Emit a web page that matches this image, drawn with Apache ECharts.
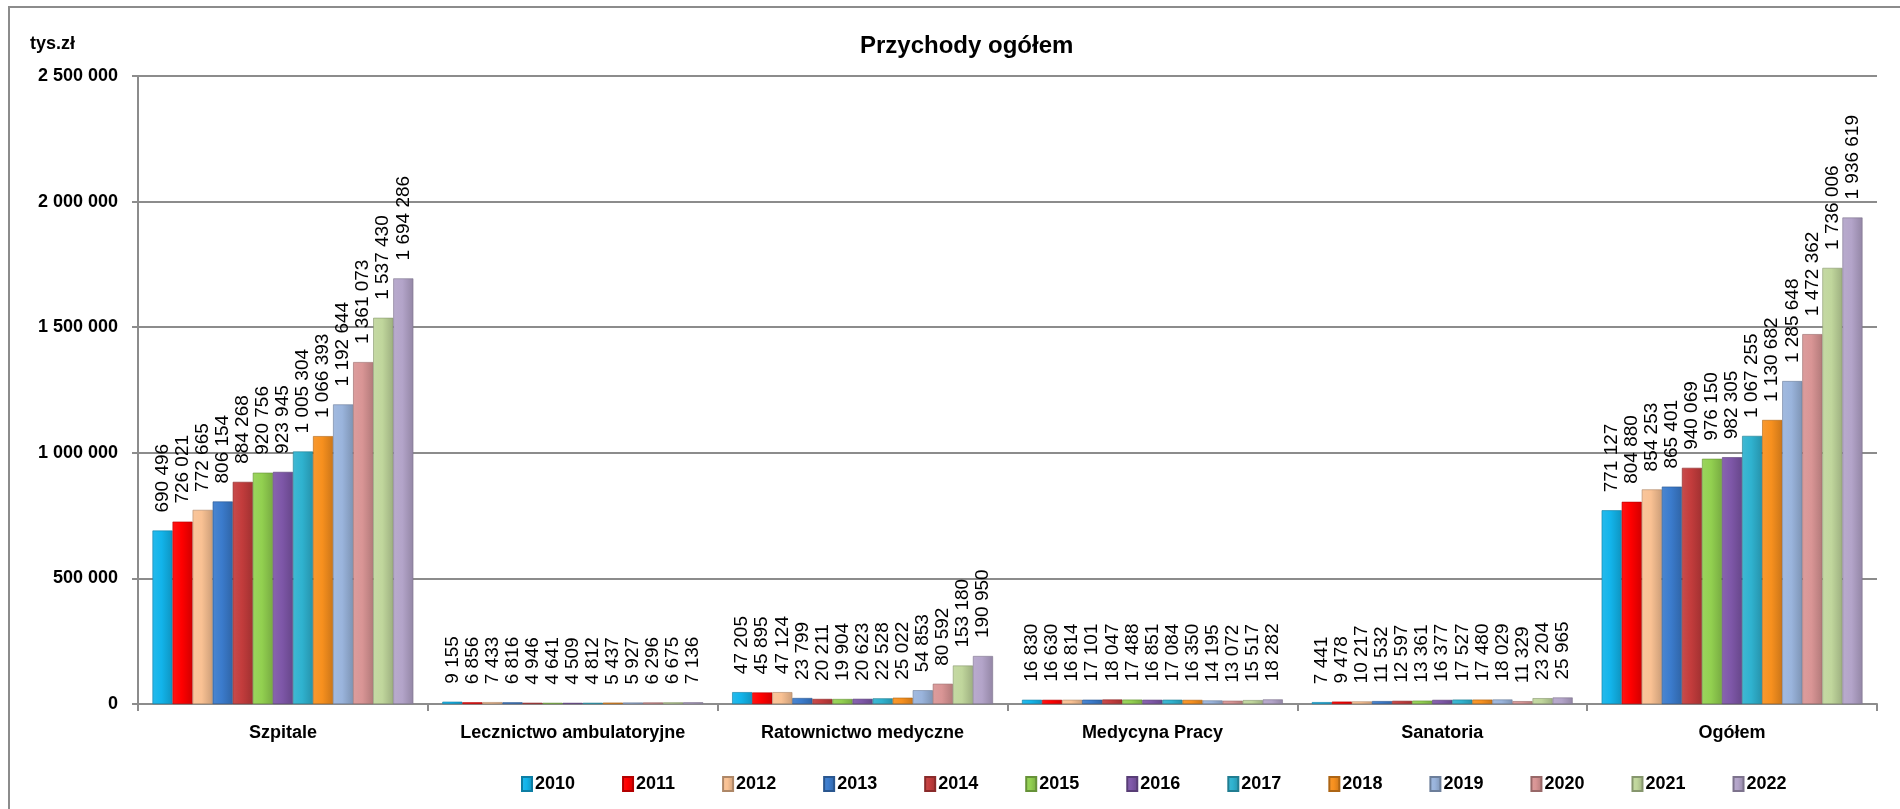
<!DOCTYPE html>
<html>
<head>
<meta charset="utf-8">
<script src="https://cdn.jsdelivr.net/npm/echarts@6/dist/echarts.min.js"></script>
<style>
  html, body { margin: 0; padding: 0; background: #fff; }
  #chart { width: 1900px; height: 809px; }
</style>
</head>
<body>
<div id="chart"></div>
<script>
const categories = ['Szpitale', 'Lecznictwo ambulatoryjne', 'Ratownictwo medyczne', 'Medycyna Pracy', 'Sanatoria', 'Ogółem']
const years = ['2010', '2011', '2012', '2013', '2014', '2015', '2016', '2017', '2018', '2019', '2020', '2021', '2022']

// wartości w tys. zł, kolejno lata 2010-2022
const szpitale = [690496, 726021, 772665, 806154, 884268, 920756, 923945, 1005304, 1066393, 1192644, 1361073, 1537430, 1694286]
const lecznictwo = [9155, 6856, 7433, 6816, 4946, 4641, 4509, 4812, 5437, 5927, 6296, 6675, 7136]
const ratownictwo = [47205, 45895, 47124, 23799, 20211, 19904, 20623, 22528, 25022, 54853, 80592, 153180, 190950]
const medycyna = [16830, 16630, 16814, 17101, 18047, 17488, 16851, 17084, 16350, 14195, 13072, 15517, 18282]
const sanatoria = [7441, 9478, 10217, 11532, 12597, 13361, 16377, 17527, 17480, 18029, 11329, 23204, 25965]
const ogolem = [771127, 804880, 854253, 865401, 940069, 976150, 982305, 1067255, 1130682, 1285648, 1472362, 1736006, 1936619]

const yearColors = ['#12b4ea', '#ff0000', '#f9c193', '#3b7bcc', '#c33c3c', '#92d050', '#7e57a8', '#2fb2cf', '#f7901e', '#9ab4dc', '#d99595', '#c0d69c', '#b3a4c9']

const fmt = v => String(v).replace(/\B(?=(\d{3})+(?!\d))/g, ' ')

const shade = (hex, k) => {
  const n = parseInt(hex.slice(1), 16)
  let r = (n >> 16) & 255, g = (n >> 8) & 255, b = n & 255
  if (k > 0) {
    r = r + (255 - r) * k; g = g + (255 - g) * k; b = b + (255 - b) * k
  } else {
    r = r * (1 + k); g = g * (1 + k); b = b * (1 + k)
  }
  return 'rgb(' + Math.round(r) + ',' + Math.round(g) + ',' + Math.round(b) + ')'
}

const chart = echarts.init(document.getElementById('chart'))

const series = years.map((y, i) => ({
  name: y,
  type: 'bar',
  barGap: '0%',
  barCategoryGap: '10%',
  data: [szpitale[i], lecznictwo[i], ratownictwo[i], medycyna[i], sanatoria[i], ogolem[i]],
  itemStyle: {
    color: new echarts.graphic.LinearGradient(0, 0, 1, 0, [
      { offset: 0, color: shade(yearColors[i], 0.08) },
      { offset: 0.45, color: yearColors[i] },
      { offset: 1, color: shade(yearColors[i], -0.18) }
    ]),
    borderColor: shade(yearColors[i], -0.3),
    borderWidth: 0.6
  },
  label: {
    show: true,
    position: 'top',
    rotate: 90,
    align: 'left',
    verticalAlign: 'middle',
    distance: 18,
    color: '#000',
    fontFamily: 'Liberation Sans',
    fontSize: 19,
    formatter: p => fmt(p.value)
  }
}))

const option = {
  animation: false,
  backgroundColor: '#fff',
  title: {
    text: 'Przychody ogółem',
    left: 855,
    top: 29,
    textStyle: { fontFamily: 'Liberation Sans', fontWeight: 'bold', fontSize: 24, color: '#000' }
  },
  graphic: [
    {
      type: 'rect',
      shape: { x: 9, y: 7, width: 1910, height: 820 },
      style: { fill: 'none', stroke: '#8c8c8c', lineWidth: 2 },
      silent: true
    },
    {
      type: 'text',
      left: 30,
      top: 35,
      style: { text: 'tys.zł', font: 'bold 18px "Liberation Sans"', fill: '#000' }
    }
  ],
  legend: {
    left: 516,
    top: 770,
    itemWidth: 10,
    itemHeight: 14,
    itemGap: 47,
    icon: 'rect',
    textStyle: { fontFamily: 'Liberation Sans', fontWeight: 'bold', fontSize: 18, color: '#000', padding: [0, 0, 0, -2] },
    data: years
  },
  grid: { left: 138, right: 23, top: 76, bottom: 105 },
  xAxis: {
    type: 'category',
    data: categories,
    axisLine: { lineStyle: { color: '#8c8c8c', width: 2 } },
    axisTick: { show: true, length: 7, lineStyle: { color: '#8c8c8c', width: 2 } },
    axisLabel: {
      interval: 0,
      margin: 20,
      color: '#000',
      fontFamily: 'Liberation Sans',
      fontWeight: 'bold',
      fontSize: 18
    }
  },
  yAxis: {
    type: 'value',
    min: 0,
    max: 2500000,
    interval: 500000,
    axisLine: { show: true, lineStyle: { color: '#8c8c8c', width: 2 } },
    axisTick: { show: true, length: 6, lineStyle: { color: '#8c8c8c', width: 2 } },
    splitLine: { lineStyle: { color: '#8c8c8c', width: 2 } },
    axisLabel: {
      margin: 20,
      color: '#000',
      fontFamily: 'Liberation Sans',
      fontWeight: 'bold',
      fontSize: 18,
      formatter: v => fmt(v)
    }
  },
  series: series
}

chart.setOption(option)
</script>
</body>
</html>
